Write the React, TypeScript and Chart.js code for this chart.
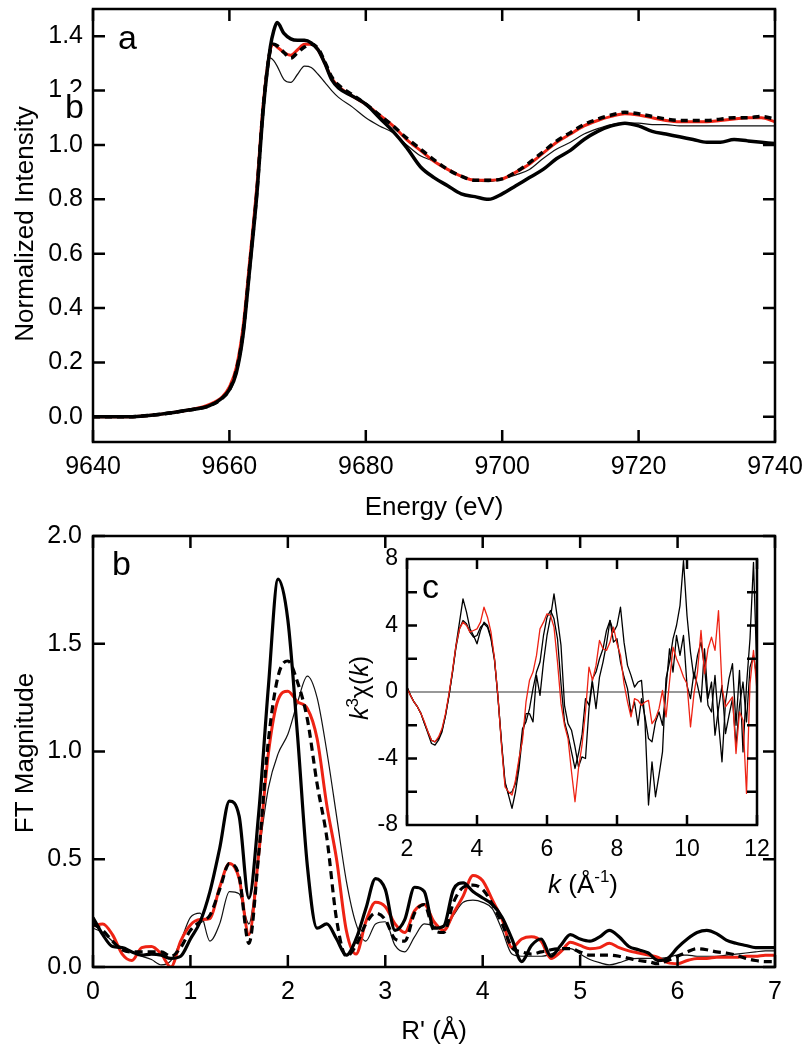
import React, { useEffect, useRef } from "react";
import { Chart, registerables } from "chart.js";

Chart.register(...registerables);

const FONT = '"Liberation Sans", Arial, Helvetica, sans-serif';
const RED = "#ee2314";

// ---------- Panel a: XANES ----------
const energyEV = [9640, 9645, 9650, 9654, 9657, 9659, 9660, 9661, 9662, 9663, 9664, 9665, 9666, 9666.5, 9667, 9668, 9669, 9670, 9671, 9672, 9673, 9674, 9675, 9676, 9678, 9680, 9682, 9684, 9686, 9688, 9690, 9692, 9694, 9696, 9698, 9700, 9702, 9704, 9706, 9708, 9710, 9712, 9714, 9716, 9718, 9720, 9722, 9724, 9726, 9728, 9730, 9732, 9734, 9736, 9738, 9740];
const xanesThick = [0.0, 0.0, 0.01, 0.025, 0.04, 0.07, 0.1, 0.16, 0.3, 0.55, 0.81, 1.14, 1.36, 1.42, 1.45, 1.41, 1.39, 1.385, 1.385, 1.375, 1.35, 1.3, 1.24, 1.21, 1.18, 1.15, 1.1, 1.05, 0.99, 0.92, 0.88, 0.85, 0.82, 0.81, 0.8, 0.82, 0.85, 0.88, 0.91, 0.95, 0.98, 1.02, 1.05, 1.07, 1.08, 1.07, 1.05, 1.04, 1.03, 1.02, 1.01, 1.01, 1.02, 1.015, 1.01, 1.005];
const xanesDashed = [0.0, 0.0, 0.01, 0.025, 0.04, 0.07, 0.1, 0.17, 0.31, 0.56, 0.82, 1.15, 1.35, 1.37, 1.365, 1.34, 1.32, 1.34, 1.36, 1.37, 1.355, 1.305, 1.25, 1.22, 1.185, 1.15, 1.11, 1.07, 1.025, 0.985, 0.945, 0.91, 0.885, 0.87, 0.87, 0.875, 0.9, 0.935, 0.975, 1.015, 1.045, 1.075, 1.095, 1.11, 1.12, 1.115, 1.105, 1.095, 1.09, 1.09, 1.09, 1.095, 1.1, 1.1, 1.105, 1.095];
const xanesRed = [0.0, 0.0, 0.01, 0.025, 0.045, 0.075, 0.11, 0.18, 0.33, 0.58, 0.84, 1.16, 1.35, 1.37, 1.36, 1.34, 1.33, 1.35, 1.37, 1.37, 1.35, 1.3, 1.245, 1.215, 1.18, 1.15, 1.11, 1.07, 1.02, 0.98, 0.94, 0.91, 0.885, 0.87, 0.87, 0.875, 0.9, 0.93, 0.97, 1.01, 1.04, 1.07, 1.09, 1.105, 1.115, 1.11, 1.1, 1.09, 1.085, 1.085, 1.085, 1.09, 1.095, 1.1, 1.1, 1.085];
const xanesThin = [0.0, 0.0, 0.01, 0.025, 0.04, 0.07, 0.1, 0.17, 0.31, 0.56, 0.83, 1.15, 1.32, 1.31, 1.29, 1.24, 1.23, 1.26, 1.29, 1.285, 1.26, 1.23, 1.2, 1.175, 1.14, 1.1, 1.07, 1.045, 1.0, 0.96, 0.94, 0.91, 0.885, 0.87, 0.865, 0.875, 0.89, 0.91, 0.95, 0.985, 1.01, 1.04, 1.06, 1.075, 1.08, 1.08, 1.075, 1.075, 1.07, 1.07, 1.07, 1.07, 1.07, 1.07, 1.07, 1.07];
const energyTicks = [9640, 9660, 9680, 9700, 9720, 9740];
const intensityTicks = [0, 0.2, 0.4, 0.6, 0.8, 1.0, 1.2, 1.4];

// ---------- Panel b: Fourier transform ----------
const rPrime = [0, 0.1, 0.2, 0.3, 0.4, 0.5, 0.6, 0.7, 0.8, 0.9, 1.0, 1.1, 1.2, 1.3, 1.4, 1.5, 1.6, 1.7, 1.8, 1.9, 2.0, 2.1, 2.2, 2.3, 2.4, 2.5, 2.6, 2.7, 2.8, 2.9, 3.0, 3.1, 3.2, 3.3, 3.4, 3.5, 3.6, 3.7, 3.8, 3.9, 4.0, 4.1, 4.2, 4.3, 4.4, 4.5, 4.6, 4.7, 4.8, 4.9, 5.0, 5.1, 5.2, 5.3, 5.4, 5.5, 5.6, 5.7, 5.8, 5.9, 6.0, 6.1, 6.2, 6.3, 6.4, 6.5, 6.6, 6.7, 6.8, 6.9, 7.0];
const ftThick = [0.23, 0.15, 0.095, 0.09, 0.07, 0.055, 0.06, 0.055, 0.04, 0.05, 0.13, 0.21, 0.35, 0.55, 0.77, 0.7, 0.32, 0.71, 1.3, 1.8, 1.61, 1.07, 0.47, 0.18, 0.2, 0.13, 0.055, 0.13, 0.27, 0.41, 0.36, 0.17, 0.22, 0.37, 0.35, 0.18, 0.19, 0.36, 0.39, 0.35, 0.32, 0.29, 0.23, 0.13, 0.025, 0.1, 0.13, 0.05, 0.1, 0.15, 0.13, 0.12, 0.14, 0.17, 0.14, 0.095, 0.08, 0.065, 0.03, 0.04, 0.09, 0.13, 0.16, 0.17, 0.155, 0.125, 0.11, 0.1, 0.09, 0.09, 0.09];
const ftDashed = [0.2, 0.17, 0.12, 0.08, 0.07, 0.07, 0.07, 0.07, 0.05, 0.09, 0.17, 0.21, 0.24, 0.36, 0.48, 0.42, 0.11, 0.52, 1.05, 1.35, 1.42, 1.32, 1.15, 0.85, 0.6, 0.22, 0.05, 0.1, 0.2, 0.25, 0.22, 0.13, 0.12, 0.25, 0.29, 0.17, 0.16, 0.3, 0.37, 0.38, 0.36, 0.29, 0.2, 0.09, 0.07, 0.06, 0.07, 0.08, 0.085, 0.085, 0.07, 0.055, 0.055, 0.055, 0.05, 0.04, 0.03, 0.025, 0.015, 0.03, 0.05, 0.07, 0.085, 0.08, 0.07, 0.065, 0.055, 0.04, 0.03, 0.025, 0.025];
const ftRed = [0.19, 0.2, 0.15, 0.06, 0.03, 0.09, 0.095, 0.06, 0.0, 0.12, 0.195, 0.22, 0.225, 0.37, 0.48, 0.41, 0.15, 0.52, 0.99, 1.24, 1.28, 1.23, 1.2, 1.06, 0.75, 0.5, 0.17, 0.06, 0.21, 0.3, 0.28, 0.2, 0.16, 0.26, 0.29, 0.21, 0.17, 0.25, 0.33, 0.425, 0.4, 0.31, 0.22, 0.09, 0.13, 0.14, 0.12, 0.04, 0.07, 0.115, 0.1, 0.085, 0.09, 0.11, 0.09, 0.075, 0.065, 0.055, 0.045, 0.02, 0.015, 0.03, 0.04, 0.04, 0.045, 0.045, 0.045, 0.05, 0.05, 0.055, 0.055];
const ftThin = [0.18, 0.16, 0.12, 0.09, 0.07, 0.05, 0.035, 0.01, 0.03, 0.12, 0.23, 0.25, 0.12, 0.2, 0.35, 0.34, 0.2, 0.52, 0.83, 0.99, 1.08, 1.23, 1.35, 1.25, 1.0, 0.7, 0.4, 0.2, 0.12, 0.2, 0.21, 0.1, 0.07, 0.14, 0.2, 0.19, 0.17, 0.24, 0.3, 0.31, 0.3, 0.27, 0.17, 0.06, 0.05, 0.05, 0.05, 0.06, 0.08, 0.085, 0.06, 0.035, 0.02, 0.01, 0.02, 0.035, 0.04, 0.04, 0.04, 0.045, 0.055, 0.055, 0.05, 0.05, 0.05, 0.055, 0.06, 0.065, 0.07, 0.075, 0.075];
const rTicks = [0, 1, 2, 3, 4, 5, 6, 7];
const ftTicks = [0, 0.5, 1.0, 1.5, 2.0];

// ---------- Panel c: k^3 chi(k) inset ----------
const kValues = [2.0, 2.1, 2.2, 2.3, 2.4, 2.5, 2.6, 2.7, 2.8, 2.9, 3.0, 3.1, 3.2, 3.3, 3.4, 3.5, 3.6, 3.7, 3.8, 3.9, 4.0, 4.1, 4.2, 4.3, 4.4, 4.5, 4.6, 4.7, 4.8, 4.9, 5.0, 5.1, 5.2, 5.3, 5.4, 5.5, 5.6, 5.7, 5.8, 5.9, 6.0, 6.1, 6.2, 6.3, 6.4, 6.5, 6.6, 6.7, 6.8, 6.9, 7.0, 7.1, 7.2, 7.3, 7.4, 7.5, 7.6, 7.7, 7.8, 7.9, 8.0, 8.1, 8.2, 8.3, 8.4, 8.5, 8.6, 8.7, 8.8, 8.9, 9.0, 9.1, 9.2, 9.3, 9.4, 9.5, 9.6, 9.7, 9.8, 9.9, 10.0, 10.1, 10.2, 10.3, 10.4, 10.5, 10.6, 10.7, 10.8, 10.9, 11.0, 11.1, 11.2, 11.3, 11.4, 11.5, 11.6, 11.7, 11.8, 11.9, 12.0];
const chiBlack = [0.3, -0.2, -0.6, -0.9, -1.3, -1.9, -2.5, -3.1, -3.2, -2.9, -2.4, -1.4, -0.2, 1.2, 2.8, 4.2, 5.6, 4.8, 3.8, 3.4, 2.9, 3.7, 4.2, 4.0, 3.3, 2.0, -0.4, -3.0, -5.4, -6.2, -7.0, -6.0, -4.6, -2.6, -1.3, -1.3, -1.8, 1.0, -0.2, 1.8, 3.4, 4.5, 5.9, 4.4, 2.8, -0.8, -1.9, -2.3, -3.3, -4.5, -3.9, -4.0, -1.0, 0.6, -1.0, 0.9, 1.8, 2.9, 4.3, 3.6, 4.0, 5.1, 3.0, 1.6, 1.0, 0.3, 0.6, 0.7, -1.8, -6.8, -4.2, -6.3, -5.0, -3.6, 0.8, 1.8, 3.2, 4.0, 5.2, 7.9, 4.6, 2.4, 0.8, 2.2, 3.0, 1.5, -0.8, -1.2, 1.0, -1.8, -4.2, -0.6, 0.8, 1.7, -2.0, 1.3, -3.6, 0.4, 3.2, 7.8, 1.0];
const chiBlack2 = [0.3, -0.2, -0.6, -0.9, -1.3, -1.9, -2.4, -2.9, -3.0, -2.8, -2.3, -1.4, -0.2, 1.2, 2.7, 3.8, 4.3, 4.1, 3.6, 3.3, 3.4, 3.9, 4.1, 3.9, 3.2, 1.9, -0.3, -3.1, -5.5, -6.1, -6.0, -5.5, -4.2, -2.2, -1.8, -1.0, 0.2, 1.2, 1.8, 3.4, 4.5, 4.9, 4.4, 3.2, 0.5, -1.8, -2.6, -3.6, -4.6, -3.7, -2.6, -0.4, -0.8, 0.8, 1.2, 2.0, 2.6, 3.7, 4.3, 3.0, 3.2, 1.8, 0.9, 0.2, -1.3, -0.6, -2.0, -0.4, -1.5, -2.8, -3.0, -1.8, -1.2, -2.0, 0.2, 2.6, 1.2, 3.4, 2.2, 3.4, 0.4, -0.4, 1.2, 0.4, -0.6, 2.6, -0.4, 0.6, -2.6, -1.0, 0.4, -2.5, -1.4, -0.4, -3.2, -0.8, 0.6, -1.8, 1.5, 2.2, 0.8];
const chiRed = [0.2, -0.2, -0.6, -0.9, -1.3, -1.8, -2.4, -2.9, -3.0, -2.7, -2.2, -1.3, -0.1, 1.3, 2.8, 3.8, 4.2, 4.0, 3.6, 3.7, 3.8, 4.2, 5.1, 4.5, 3.6, 2.0, -0.3, -3.2, -5.7, -6.0, -6.2, -5.3, -4.0, -2.9, -0.6, 0.7, 1.2, 2.2, 3.8, 4.2, 4.7, 4.6, 3.9, 1.8, -0.7, -2.0, -2.8, -4.8, -6.6, -4.6, -3.2, -1.2, 1.5, 0.7, 1.6, 3.1, 2.6, 2.5, 3.0, 3.9, 2.9, 2.2, 0.5, -0.6, -1.5, -0.4, -0.5, -0.8, -0.6, -0.5, -1.9, -1.6, -1.0, 0.1, -1.5, 0.6, 2.7, 2.0, 1.5, 0.9, 0.5, -2.1, -0.1, 1.2, 3.7, 1.1, 2.6, 3.3, 2.5, 4.9, 0.3, -0.9, -0.6, -0.3, -3.7, -1.2, -1.7, -6.1, 0.5, 2.5, 0.1];
const kTicks = [2, 4, 6, 8, 10, 12];
const chiLabelTicks = [-8, -4, 0, 4, 8];
const chiTickMarks = [-6, -4, -2, 2, 4, 6];

const pts = (xs: number[], ys: number[]) => xs.map((x, i) => ({ x, y: ys[i] }));

function axis(kind: "x" | "y", min: number, max: number, ticks: number[], fmt: (v: number) => string, size: number, padding: number, fontSize: number) {
  return {
    type: "linear",
    position: kind === "x" ? "bottom" : "left",
    min,
    max,
    bounds: "data",
    afterBuildTicks: (s: any) => {
      s.ticks = ticks.map((v) => ({ value: v }));
    },
    afterFit: (s: any) => {
      if (kind === "x") s.height = size;
      else s.width = size;
      s.paddingLeft = 0;
      s.paddingRight = 0;
      s.paddingTop = 0;
      s.paddingBottom = 0;
    },
    ticks: {
      autoSkip: false,
      maxRotation: 0,
      minRotation: 0,
      padding,
      color: "#000",
      font: { family: FONT, size: fontSize },
      callback: (v: any) => fmt(Number(v)),
    },
    grid: { display: false, drawTicks: false },
    border: { display: false },
  };
}

function drawFrame(chart: any, xt: number[], yt: number[], len: number, lw: number) {
  const { ctx, chartArea: a, scales } = chart;
  const sx = scales.x;
  const sy = scales.y;
  ctx.save();
  ctx.strokeStyle = "#000";
  ctx.lineWidth = lw;
  ctx.lineCap = "butt";
  ctx.beginPath();
  for (const v of xt) {
    const p = sx.getPixelForValue(v);
    ctx.moveTo(p, a.bottom);
    ctx.lineTo(p, a.bottom - len);
    ctx.moveTo(p, a.top);
    ctx.lineTo(p, a.top + len);
  }
  for (const v of yt) {
    const p = sy.getPixelForValue(v);
    ctx.moveTo(a.left, p);
    ctx.lineTo(a.left + len, p);
    ctx.moveTo(a.right, p);
    ctx.lineTo(a.right - len, p);
  }
  ctx.stroke();
  ctx.lineJoin = "miter";
  ctx.strokeRect(a.left, a.top, a.right - a.left, a.bottom - a.top);
  ctx.restore();
}

type Seg = { t: string; size: number; italic?: boolean; dy?: number };

function rich(ctx: any, segs: Seg[], cx: number, baseY: number, rotate = false) {
  ctx.save();
  ctx.translate(cx, baseY);
  if (rotate) ctx.rotate(-Math.PI / 2);
  ctx.fillStyle = "#000";
  ctx.textBaseline = "alphabetic";
  ctx.textAlign = "left";
  const fontOf = (s: Seg) => `${s.italic ? "italic " : ""}${s.size}px ${FONT}`;
  let total = 0;
  for (const s of segs) {
    ctx.font = fontOf(s);
    total += ctx.measureText(s.t).width;
  }
  let x = -total / 2;
  for (const s of segs) {
    ctx.font = fontOf(s);
    ctx.fillText(s.t, x, s.dy || 0);
    x += ctx.measureText(s.t).width;
  }
  ctx.restore();
}

function label(ctx: any, s: string, left: number, base: number, size: number) {
  ctx.save();
  ctx.fillStyle = "#000";
  ctx.font = `${size}px ${FONT}`;
  ctx.textAlign = "left";
  ctx.textBaseline = "alphabetic";
  ctx.fillText(s, left, base);
  ctx.restore();
}

const decorA = {
  id: "decorA",
  afterDraw(chart: any) {
    const ctx = chart.ctx;
    drawFrame(chart, energyTicks, intensityTicks, 12, 2.5);
    rich(ctx, [{ t: "Normalized Intensity", size: 26 }], 33, 224, true);
    rich(ctx, [{ t: "Energy (eV)", size: 26 }], 434, 515);
    ctx.save();
    ctx.fillStyle = "#fff";
    ctx.fillRect(64, 92, 24, 30);
    ctx.restore();
    label(ctx, "b", 65, 118, 34);
    label(ctx, "a", 118, 49, 34);
  },
};

const decorB = {
  id: "decorB",
  afterDraw(chart: any) {
    const ctx = chart.ctx;
    drawFrame(chart, rTicks, ftTicks, 12, 2.5);
    rich(ctx, [{ t: "FT Magnitude", size: 26 }], 33, 233, true);
    rich(ctx, [{ t: "R' (Å)", size: 26 }], 434, 519);
    label(ctx, "b", 112, 55, 34);
  },
};

const decorC = {
  id: "decorC",
  beforeDatasetsDraw(chart: any) {
    const { ctx, chartArea: a, scales } = chart;
    ctx.save();
    ctx.fillStyle = "#fff";
    ctx.fillRect(a.left, a.top, a.right - a.left, a.bottom - a.top);
    const y0 = scales.y.getPixelForValue(0);
    ctx.strokeStyle = "#333";
    ctx.lineWidth = 1.2;
    ctx.beginPath();
    ctx.moveTo(a.left, y0);
    ctx.lineTo(a.right, y0);
    ctx.stroke();
    ctx.restore();
  },
  afterDraw(chart: any) {
    const ctx = chart.ctx;
    drawFrame(chart, kTicks, chiTickMarks, 10, 2.5);
    rich(
      ctx,
      [
        { t: "k", size: 25, italic: true },
        { t: "3", size: 17, dy: -10 },
        { t: "χ(", size: 25 },
        { t: "k", size: 25, italic: true },
        { t: ")", size: 25 },
      ],
      38,
      148,
      true
    );
    rich(
      ctx,
      [
        { t: "k", size: 26, italic: true },
        { t: " (Å", size: 26 },
        { t: "-1", size: 17, dy: -11 },
        { t: ")", size: 26 },
      ],
      253,
      353
    );
    label(ctx, "c", 92, 58, 34);
  },
};

function lineDs(data: any, color: string, width: number, dash: number[] = [], smooth = true) {
  return {
    data,
    borderColor: color,
    backgroundColor: color,
    borderWidth: width,
    borderDash: dash,
    pointRadius: 0,
    fill: false,
    tension: 0,
    cubicInterpolationMode: smooth ? "monotone" : "default",
    borderJoinStyle: "round",
  };
}

const baseOptions = (scales: any, padding: any) => ({
  responsive: false,
  animation: false,
  events: [],
  devicePixelRatio: 1,
  layout: { padding },
  plugins: { legend: { display: false }, tooltip: { enabled: false }, title: { display: false } },
  scales,
});

export default function App() {
  const refA = useRef<HTMLCanvasElement>(null);
  const refB = useRef<HTMLCanvasElement>(null);
  const refC = useRef<HTMLCanvasElement>(null);

  useEffect(() => {
    const chartA = new Chart(refA.current as HTMLCanvasElement, {
      type: "line",
      data: {
        datasets: [
          lineDs(pts(energyEV, xanesThick), "#000", 3.5),
          lineDs(pts(energyEV, xanesDashed), "#000", 3.5, [7, 5]),
          lineDs(pts(energyEV, xanesRed), RED, 3),
          lineDs(pts(energyEV, xanesThin), "#111", 1.2),
        ],
      } as any,
      options: baseOptions(
        {
          x: axis("x", 9640, 9740, energyTicks, (v) => String(v), 540 - 442, 10, 25),
          y: axis("y", -0.0925, 1.5, intensityTicks, (v) => v.toFixed(1), 93, 10, 25),
        },
        { left: 0, top: 9, right: 35, bottom: 0 }
      ) as any,
      plugins: [decorA],
    });

    const chartB = new Chart(refB.current as HTMLCanvasElement, {
      type: "line",
      data: {
        datasets: [
          lineDs(pts(rPrime, ftThick), "#000", 3.2),
          lineDs(pts(rPrime, ftDashed), "#000", 3.2, [8, 5]),
          lineDs(pts(rPrime, ftRed), RED, 3),
          lineDs(pts(rPrime, ftThin), "#111", 1.2),
        ],
      } as any,
      options: baseOptions(
        {
          x: axis("x", 0, 7, rTicks, (v) => String(v), 530 - 447, 10, 25),
          y: axis("y", 0, 2, ftTicks, (v) => v.toFixed(1), 93, 11, 25),
        },
        { left: 0, top: 16, right: 35, bottom: 0 }
      ) as any,
      plugins: [decorB],
    });

    const chartC = new Chart(refC.current as HTMLCanvasElement, {
      type: "line",
      data: {
        datasets: [
          lineDs(pts(kValues, chiRed), RED, 1.3, [], false),
          lineDs(pts(kValues, chiBlack), "#000", 1.3, [], false),
          lineDs(pts(kValues, chiBlack2), "#000", 1.3, [], false),
        ],
      } as any,
      options: baseOptions(
        {
          x: axis("x", 2, 12, kTicks, (v) => String(v), 370 - 285, 11, 23),
          y: axis("y", -8, 8, chiLabelTicks, (v) => String(v), 77, 9, 23),
        },
        { left: 0, top: 19, right: 13, bottom: 0 }
      ) as any,
      plugins: [decorC],
    });

    return () => {
      chartA.destroy();
      chartB.destroy();
      chartC.destroy();
    };
  }, []);

  return (
    <div style={{ position: "absolute", left: 0, top: 0, width: 810, height: 1050, background: "#fff", overflow: "hidden" }}>
      <canvas ref={refA} width={810} height={540} style={{ position: "absolute", left: 0, top: 0, width: 810, height: 540 }} />
      <canvas ref={refB} width={810} height={530} style={{ position: "absolute", left: 0, top: 520, width: 810, height: 530 }} />
      <canvas ref={refC} width={440} height={370} style={{ position: "absolute", left: 330, top: 540, width: 440, height: 370 }} />
    </div>
  );
}
